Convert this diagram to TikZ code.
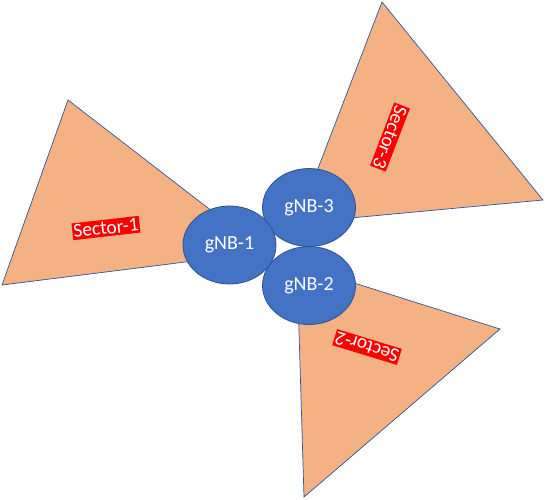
\documentclass[tikz,border=0pt]{standalone}
\usepackage{fontspec}
\setmainfont{Carlito}
\usetikzlibrary{shapes.geometric}
\definecolor{sectorfill}{RGB}{244,177,131}
\definecolor{sectorline}{RGB}{47,85,151}
\definecolor{gnbfill}{RGB}{68,114,196}
\definecolor{gnbline}{RGB}{47,82,143}
\begin{document}
\begin{tikzpicture}[x=1pt,y=-1pt,
  sector/.style={fill=sectorfill,draw=sectorline,line width=0.7pt,line join=miter},
  gnb/.style={ellipse,fill=gnbfill,draw=gnbline,line width=0.8pt,minimum width=93pt,minimum height=78pt,inner sep=0pt,text=white,font=\fontsize{20}{22}\selectfont},
  seclabel/.style={fill=red,text=white,inner xsep=1pt,inner ysep=2pt,font=\fontsize{19.5}{21}\selectfont}]
\useasboundingbox (0,0) rectangle (545,499);
% sectors
\draw[sector] (265,252) -- (68,100) -- (2,285) -- cycle;
\draw[sector] (297,223) -- (382,2) -- (543,200) -- cycle;
\draw[sector] (297,265) -- (500,329) -- (304,497) -- cycle;
% gNBs
\node[gnb] (g2) at (309,285.5) {gNB-2};
\node[gnb] (g3) at (309,207.5) {gNB-3};
\node[gnb] (g1) at (229.5,245) {gNB-1};
% labels
\node[seclabel,rotate=6.5] (s1) at (106,228) {Sector-1};
\node[seclabel,rotate=-111] (s3) at (390,137) {Sector-3};
\node[seclabel,rotate=163] (s2) at (367,347) {Sector-2};
\end{tikzpicture}
\end{document}
